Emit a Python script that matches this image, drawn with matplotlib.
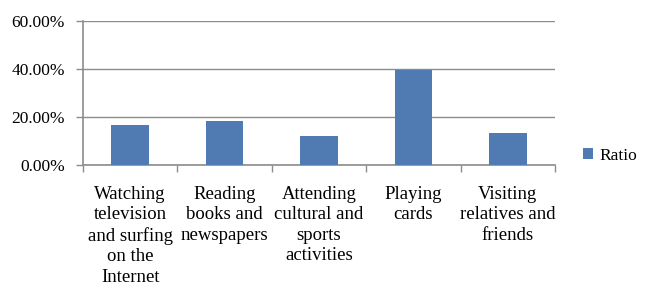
import matplotlib.pyplot as plt
import numpy as np
from matplotlib.ticker import PercentFormatter

categories = ['Watching\ntelevision\nand surfing\non the\nInternet',
              'Reading\nbooks and\nnewspapers',
              'Attending\ncultural and\nsports\nactivities',
              'Playing\ncards',
              'Visiting\nrelatives and\nfriends']
ratio = [16.7, 18.3, 12.1, 39.6, 13.3]
y_ticks = [0, 20, 40, 60]

plt.rcParams['font.family'] = ['Liberation Serif', 'DejaVu Serif']
bar_color = '#4f7bb2'
axis_color = '#8c8c8c'

fig = plt.figure(figsize=(6.49, 2.88), dpi=100)
ax = fig.add_axes([83 / 649, 1 - 165 / 288, (555 - 83) / 649, (165 - 21) / 288])

x = np.arange(len(categories))
ax.bar(x, ratio, width=0.4, color=bar_color, label='Ratio', zorder=3)

ax.set_xlim(-0.5, len(categories) - 0.5)
ax.set_ylim(0, 60)
ax.set_yticks(y_ticks)
ax.yaxis.set_major_formatter(PercentFormatter(decimals=2))
ax.grid(axis='y', color=axis_color, lw=1, zorder=0)

for s in ['top', 'right']:
    ax.spines[s].set_visible(False)
for s in ['left', 'bottom']:
    ax.spines[s].set_color(axis_color)
    ax.spines[s].set_linewidth(1.2)

# category labels between boundary ticks
ax.set_xticks(x)
ax.set_xticklabels(categories, fontsize=13.5, linespacing=1.27, va='top')
ax.tick_params(axis='x', length=0, pad=15)
ax.set_xticks(np.arange(-0.5, len(categories)), minor=True)
ax.tick_params(axis='x', which='minor', length=5, color=axis_color, width=1)
ax.tick_params(axis='y', length=5, color=axis_color, width=1, labelsize=12.5, pad=8)

ax.legend(loc='center left', bbox_to_anchor=(583 / 649, 1 - 156 / 288),
          bbox_transform=fig.transFigure, frameon=False, borderpad=0, borderaxespad=0,
          fontsize=12.5, handlelength=0.6, handleheight=0.6, handletextpad=0.35)

fig.savefig('out.png', dpi=100)
